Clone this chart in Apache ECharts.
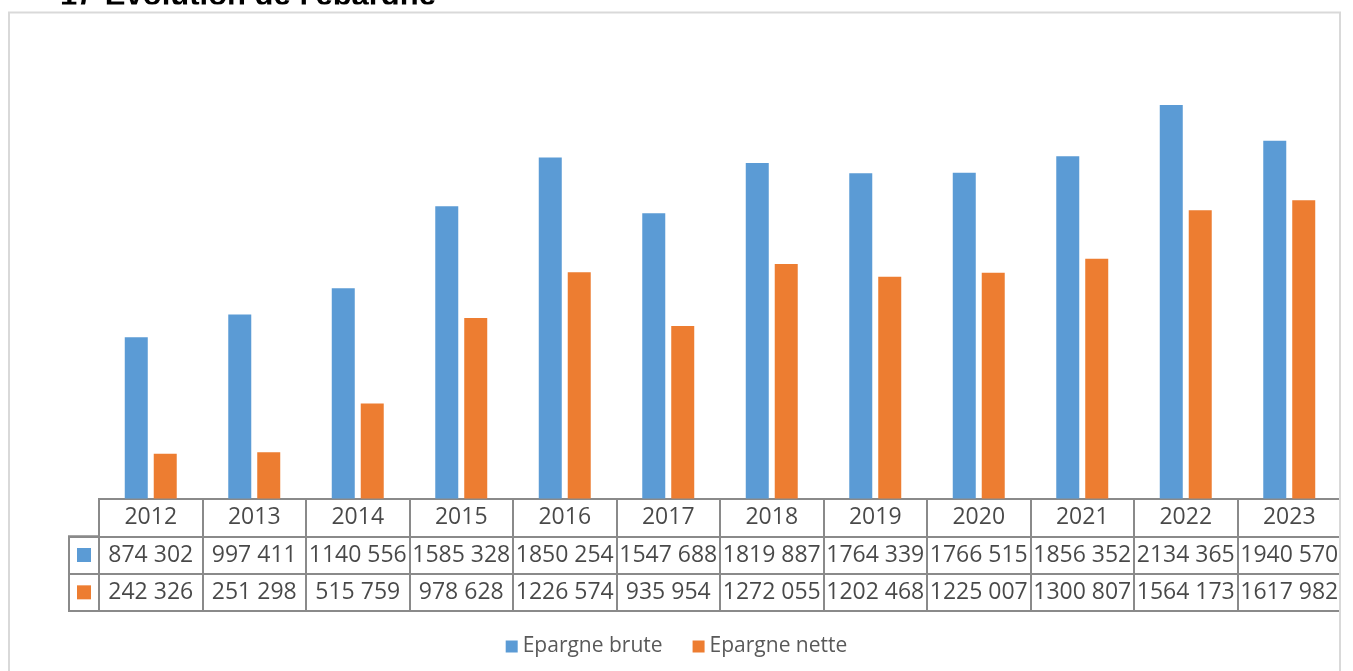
<!DOCTYPE html>
<html>
<head>
<meta charset="utf-8">
<script src="https://cdn.jsdelivr.net/npm/echarts@6/dist/echarts.min.js"></script>
<style>
html,body{margin:0;padding:0;background:#fff;}
#chart{width:1353px;height:671px;}
</style>
</head>
<body>
<div id="chart"></div>
<script>
// ---- data ----
var years = ['2012','2013','2014','2015','2016','2017','2018','2019','2020','2021','2022','2023'];
var epargneBrute = [874302, 997411, 1140556, 1585328, 1850254, 1547688, 1819887, 1764339, 1766515, 1856352, 2134365, 1940570];
var epargneNette = [242326, 251298, 515759, 978628, 1226574, 935954, 1272055, 1202468, 1225007, 1300807, 1564173, 1617982];
var seriesNames = ['Epargne brute', 'Epargne nette'];
var titleText = "1)  Evolution de l'épargne";

var colors = ['#5B9BD5', '#ED7D31'];
var lineColor = '#8a8a8a';

// reference format: only the last group of three digits is separated ("1140 556")
function fmt(v) {
  var s = String(v);
  return s.length > 3 ? s.slice(0, -3) + ' ' + s.slice(-3) : s;
}

// layout
var W = 1353, H = 671;
var gLeft = 99, gRight = 12;
var baseY = 498.5;
var tableTop = 499, tableH = 112, rowH = tableH / 3;

var cellData = [];
for (var i = 0; i < years.length; i++) {
  cellData.push([i, 0, years[i]]);
  cellData.push([i, 1, fmt(epargneBrute[i])]);
  cellData.push([i, 2, fmt(epargneNette[i])]);
}

var chart = echarts.init(document.getElementById('chart'), null, {renderer: 'canvas'});
var option = {
  animation: false,
  backgroundColor: '#ffffff',
  legend: {
    data: seriesNames,
    top: 631,
    left: 'center',
    icon: 'rect',
    itemWidth: 12,
    itemHeight: 12,
    itemGap: 30,
    textStyle: {color: '#595959', fontSize: 21, fontFamily: 'Open Sans'}
  },
  grid: [
    {left: gLeft, right: gRight, top: baseY - 460.9, height: 460.9},
    {left: gLeft, right: gRight, top: tableTop, height: tableH, show: true,
     borderColor: lineColor, borderWidth: 2, backgroundColor: 'transparent'},
    {left: 69, width: gLeft - 69, top: tableTop + rowH, height: rowH * 2, show: true,
     borderColor: lineColor, borderWidth: 2, backgroundColor: 'transparent'}
  ],
  xAxis: [
    {type: 'category', data: years, gridIndex: 0, show: false},
    {type: 'category', data: years, gridIndex: 1, axisLine: {show: false}, axisTick: {show: false},
     axisLabel: {show: false}, splitLine: {show: true, lineStyle: {color: lineColor, width: 2}}},
    {type: 'category', data: ['k'], gridIndex: 2, axisLine: {show: false}, axisTick: {show: false},
     axisLabel: {show: false}, splitLine: {show: false}}
  ],
  yAxis: [
    {type: 'value', gridIndex: 0, min: 0, max: 2500000, show: false},
    {type: 'category', data: ['Année'].concat(seriesNames), inverse: true, gridIndex: 1,
     axisLine: {show: false}, axisTick: {show: false}, axisLabel: {show: false},
     splitLine: {show: true, lineStyle: {color: lineColor, width: 2}}},
    {type: 'category', data: seriesNames, inverse: true, gridIndex: 2,
     axisLine: {show: false}, axisTick: {show: false}, axisLabel: {show: false},
     splitLine: {show: true, lineStyle: {color: lineColor, width: 2}}}
  ],
  series: [
    {name: seriesNames[0], type: 'bar', xAxisIndex: 0, yAxisIndex: 0, data: epargneBrute,
     barWidth: 23, barGap: '26%', itemStyle: {color: colors[0]}},
    {name: seriesNames[1], type: 'bar', xAxisIndex: 0, yAxisIndex: 0, data: epargneNette,
     barWidth: 23, barGap: '26%', itemStyle: {color: colors[1]}},
    {type: 'scatter', xAxisIndex: 1, yAxisIndex: 1, data: cellData, symbolSize: 1,
     itemStyle: {color: 'rgba(0,0,0,0)'}, silent: true,
     label: {show: true, position: 'inside', color: '#1a1a1a', fontSize: 23, fontFamily: 'Open Sans',
       formatter: function (p) { return p.value[2]; }}},
    {type: 'scatter', xAxisIndex: 2, yAxisIndex: 2, symbol: 'rect', symbolSize: 14, silent: true,
     data: [
       {value: [0, 0], itemStyle: {color: colors[0], opacity: 1}},
       {value: [0, 1], itemStyle: {color: colors[1], opacity: 1}}
     ]}
  ],
  graphic: [
    {type: 'text', left: 60, top: -19.5, z: 1,
     style: {text: titleText, font: 'bold 31px "Liberation Sans", Arial, sans-serif', fill: '#000'}},
    {type: 'rect', shape: {x: 0, y: 4.5, width: W, height: 8}, style: {fill: '#fff'}, z: 2},
    {type: 'rect', shape: {x: 9, y: 12.5, width: 1331, height: 700}, style: {fill: 'none', stroke: '#d9d9d9', lineWidth: 2}, z: 10},
    {type: 'rect', shape: {x: 1341, y: 13, width: 12, height: 700}, style: {fill: '#fff'}, z: 9}
  ]
};
chart.setOption(option);
</script>
</body>
</html>
